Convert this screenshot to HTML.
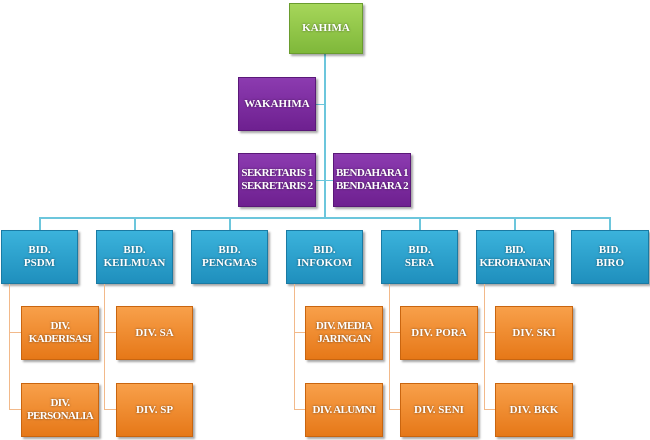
<!DOCTYPE html>
<html><head><style>
body{margin:0;width:650px;height:440px;background:#fff;position:relative;overflow:hidden;font-family:"Liberation Serif",serif;}
.b{position:absolute;display:flex;align-items:center;justify-content:center;text-align:center;color:#fff;font-weight:bold;font-size:11px;line-height:13px;box-sizing:border-box;white-space:nowrap;text-shadow:0 0 2px rgba(0,0,0,.5);box-shadow:2px 2px 2px rgba(0,0,0,.35);}
.g{background:linear-gradient(#a6d65a,#7fb83a);border:1px solid #6a9c2e;}
.p{background:linear-gradient(#8c3bb0,#6e2090);border:1px solid #5a1878;}
.c{background:linear-gradient(#3bb3dc,#1f8fbd);border:1px solid #1a7aa3;}
.o{background:linear-gradient(#f8a04a,#e67818);border:1px solid #c9650f;}
.l{position:absolute;background:#6cc6dc;}
.lo{position:absolute;background:#f2b98a;}
.t{letter-spacing:-0.6px;}
</style></head><body>
<div class="l" style="left:324px;top:53px;width:2px;height:166px"></div>
<div class="l" style="left:39px;top:217px;width:572px;height:2px"></div>
<div class="l" style="left:316px;top:104px;width:9px;height:1px"></div>
<div class="l" style="left:316px;top:180px;width:17px;height:1px"></div>
<div class="l" style="left:39px;top:217px;width:2px;height:13px"></div>
<div class="l" style="left:134px;top:217px;width:2px;height:13px"></div>
<div class="l" style="left:229px;top:217px;width:2px;height:13px"></div>
<div class="l" style="left:419px;top:217px;width:2px;height:13px"></div>
<div class="l" style="left:514px;top:217px;width:2px;height:13px"></div>
<div class="l" style="left:609px;top:217px;width:2px;height:13px"></div>

<div class="b g" style="left:289px;top:3px;width:74px;height:51px">KAHIMA</div>
<div class="b p" style="left:238px;top:77px;width:78px;height:54px">WAKAHIMA</div>
<div class="b p t" style="left:238px;top:153px;width:78px;height:54px">SEKRETARIS 1<br>SEKRETARIS 2</div>
<div class="b p t" style="left:333px;top:153px;width:78px;height:54px">BENDAHARA 1<br>BENDAHARA 2</div>

<div class="b c" style="left:1px;top:230px;width:77px;height:54px">BID.<br>PSDM</div>
<div class="b c" style="left:96px;top:230px;width:77px;height:54px">BID.<br>KEILMUAN</div>
<div class="b c" style="left:191px;top:230px;width:77px;height:54px">BID.<br>PENGMAS</div>
<div class="b c" style="left:286px;top:230px;width:77px;height:54px">BID.<br>INFOKOM</div>
<div class="b c" style="left:381px;top:230px;width:77px;height:54px">BID.<br>SERA</div>
<div class="b c t" style="left:476px;top:230px;width:78px;height:54px">BID.<br>KEROHANIAN</div>
<div class="b c" style="left:571px;top:230px;width:78px;height:54px">BID.<br>BIRO</div>

<div class="lo" style="left:9px;top:284px;width:1px;height:126px"></div>
<div class="lo" style="left:9px;top:332px;width:12px;height:1px"></div>
<div class="lo" style="left:9px;top:409px;width:12px;height:1px"></div>
<div class="lo" style="left:104px;top:284px;width:1px;height:126px"></div>
<div class="lo" style="left:104px;top:332px;width:12px;height:1px"></div>
<div class="lo" style="left:104px;top:409px;width:12px;height:1px"></div>
<div class="lo" style="left:294px;top:284px;width:1px;height:126px"></div>
<div class="lo" style="left:294px;top:332px;width:12px;height:1px"></div>
<div class="lo" style="left:294px;top:409px;width:12px;height:1px"></div>
<div class="lo" style="left:389px;top:284px;width:1px;height:126px"></div>
<div class="lo" style="left:389px;top:332px;width:12px;height:1px"></div>
<div class="lo" style="left:389px;top:409px;width:12px;height:1px"></div>
<div class="lo" style="left:484px;top:284px;width:1px;height:126px"></div>
<div class="lo" style="left:484px;top:332px;width:12px;height:1px"></div>
<div class="lo" style="left:484px;top:409px;width:12px;height:1px"></div>

<div class="b o t" style="left:21px;top:306px;width:78px;height:54px">DIV.<br>KADERISASI</div>
<div class="b o t" style="left:21px;top:383px;width:78px;height:54px">DIV.<br>PERSONALIA</div>
<div class="b o" style="left:116px;top:306px;width:77px;height:54px">DIV. SA</div>
<div class="b o" style="left:116px;top:383px;width:77px;height:54px">DIV. SP</div>
<div class="b o t" style="left:305px;top:306px;width:78px;height:54px">DIV. MEDIA<br>JARINGAN</div>
<div class="b o t" style="left:305px;top:383px;width:78px;height:54px">DIV. ALUMNI</div>
<div class="b o" style="left:400px;top:306px;width:78px;height:54px">DIV. PORA</div>
<div class="b o" style="left:400px;top:383px;width:78px;height:54px">DIV. SENI</div>
<div class="b o" style="left:495px;top:306px;width:78px;height:54px">DIV. SKI</div>
<div class="b o" style="left:495px;top:383px;width:78px;height:54px">DIV. BKK</div>
</body></html>
